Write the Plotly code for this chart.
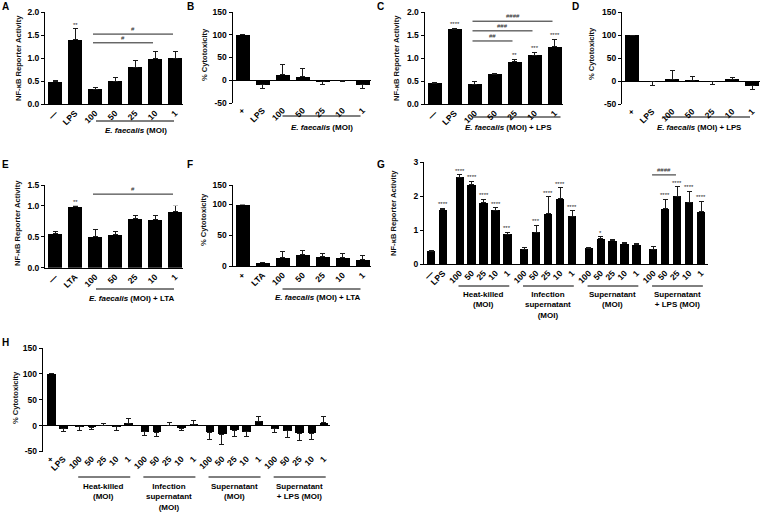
import plotly.graph_objects as go

W, H = 760, 517
FONT = "Liberation Sans, Arial, sans-serif"

# ---------------- data ----------------
labels_nf = ["—", "LPS", "100", "50", "25", "10", "1"]
labels_cyto = ["+", "LPS", "100", "50", "25", "10", "1"]
labels_nf_lta = ["—", "LTA", "100", "50", "25", "10", "1"]
labels_cyto_lta = ["+", "LTA", "100", "50", "25", "10", "1"]

A_vals = [0.48, 1.40, 0.32, 0.49, 0.80, 0.98, 1.00]
A_err = [0.03, 0.24, 0.03, 0.08, 0.14, 0.16, 0.14]
A_sig = ["", "**", "", "", "", "", ""]

B_vals = [100, -10, 12, 8, -3, -1, -10]
B_err = [0, 9, 22, 18, 6, 1, 9]

C_vals = [0.45, 1.63, 0.43, 0.65, 0.92, 1.06, 1.24]
C_err = [0.02, 0.02, 0.05, 0.01, 0.05, 0.06, 0.17]
C_sig = ["", "****", "", "", "**", "***", "****"]

D_vals = [100, -2, 4, 1, -1, 3, -10]
D_err = [0, 7, 18, 8, 7, 4, 8]

E_vals = [0.55, 0.99, 0.50, 0.54, 0.79, 0.78, 0.91]
E_err = [0.03, 0.01, 0.11, 0.04, 0.06, 0.06, 0.10]
E_sig = ["", "**", "", "", "", "", "*"]

F_vals = [100, 5, 14, 19, 16, 14, 11]
F_err = [0, 1, 10, 6, 5, 7, 6]

moi = ["100", "50", "25", "10", "1"]
G_labels = ["—", "LPS"] + moi * 4
H_labels = ["+", "LPS"] + moi * 4
GH_groups = [0, 0] + [1] * 5 + [2] * 5 + [3] * 5 + [4] * 5
group_names = ["Heat-killed<br>(MOI)", "Infection<br>supernatant<br>(MOI)",
               "Supernatant<br>(MOI)", "Supernatant<br>+ LPS (MOI)"]

G_vals = [0.37, 1.60, 2.55, 2.33, 1.80, 1.58, 0.87, 0.44, 0.94, 1.48, 1.92, 1.40,
          0.46, 0.75, 0.68, 0.60, 0.56, 0.44, 1.63, 2.00, 1.82, 1.53]
G_err = [0.02, 0.04, 0.07, 0.11, 0.11, 0.08, 0.07, 0.06, 0.20, 0.50, 0.32, 0.16,
         0.02, 0.05, 0.03, 0.04, 0.05, 0.07, 0.28, 0.27, 0.32, 0.32]
G_sig = ["", "****", "****", "****", "****", "****", "***", "", "***", "****", "****", "****",
         "", "*", "", "", "", "", "****", "****", "****", "****"]

H_vals = [100, -6, -2, -3, 1, -2, 5, -12, -13, 1, -5, 2,
          -13, -17, -9, -12, 8, -6, -10, -15, -15, 6]
H_err = [0, 6, 7, 5, 4, 8, 9, 7, 8, 5, 5, 7,
         14, 20, 12, 9, 9, 8, 12, 13, 11, 11]

# hash comparisons: (from index, to index, text, height)
A_hash = [(2, 6, "#", 1.52), (2, 5, "#", 1.33)]
C_hash = [(2, 6, "####", 1.80), (2, 5, "###", 1.59), (2, 4, "##", 1.37)]
E_hash = [(2, 6, "#", 1.28)]
G_hash = [(17, 19, "####", 2.62)]

# ---------------- helpers ----------------
def xd(a, b):
    return [a / W, b / W]


def yd(top, bottom):
    return [1 - bottom / H, 1 - top / H]


def px_x(p):
    return p / W


def px_y(p):
    return 1 - p / H


fig = go.Figure()
layout = {}
annotations = []
shapes = []
tick_font = dict(family=FONT, size=8.5, color="black", weight="bold")


def add_panel(k, xs, labels, vals, errs, xdom, xrange, ydom, yrange, ytv, ytt,
              xline=True):
    plus = [e if v >= 0 else 0 for v, e in zip(vals, errs)]
    minus = [0 if v >= 0 else e for v, e in zip(vals, errs)]
    fig.add_trace(go.Bar(
        x=xs, y=vals, width=0.7, xaxis=f"x{k}", yaxis=f"y{k}",
        marker=dict(color="black", line=dict(width=0)), cliponaxis=False,
        error_y=dict(type="data", symmetric=False, array=plus, arrayminus=minus,
                     color="#1a1a1a", thickness=1, width=2.5),
        showlegend=False, hoverinfo="skip"))
    layout[f"xaxis{k}"] = dict(
        domain=xd(*xdom), range=xrange, anchor=f"y{k}", tickvals=xs, ticktext=labels,
        tickangle=-45, showline=xline, linecolor="black", linewidth=1, ticks="",
        tickfont=tick_font, showgrid=False, zeroline=False, ticklabeloverflow="allow",
        automargin=False)
    layout[f"yaxis{k}"] = dict(
        domain=yd(*ydom), range=yrange, anchor=f"x{k}", showline=True,
        linecolor="black", linewidth=1, ticks="outside", ticklen=3, tickwidth=1,
        tickcolor="black", tickvals=ytv, ticktext=ytt, tickfont=tick_font,
        showgrid=False, zeroline=not xline, zerolinecolor="black", zerolinewidth=1,
        automargin=False)


def add_upper(k, kx, ydom, yrange, ytv, ytt):
    fig.add_trace(go.Scatter(x=[None], y=[None], xaxis=f"x{kx}", yaxis=f"y{k}",
                             showlegend=False, hoverinfo="skip"))
    layout[f"yaxis{k}"] = dict(
        domain=yd(*ydom), range=yrange, anchor=f"x{kx}", showline=True,
        linecolor="black", linewidth=1, ticks="outside", ticklen=3, tickwidth=1,
        tickcolor="black", tickvals=ytv, ticktext=ytt, tickfont=tick_font,
        showgrid=False, zeroline=False, automargin=False)


def stars(k, xs, vals, errs, sig, yk=None):
    for x, v, e, s in zip(xs, vals, errs, sig):
        if s:
            annotations.append(dict(
                x=x, y=v + e, xref=f"x{k}", yref=f"y{yk or k}", text=s, showarrow=False,
                xanchor="center", yanchor="bottom", yshift=-1,
                font=dict(family=FONT, size=6, color="#222")))


def hashes(k, xs, items, yk=None):
    for a, b, t, h in items:
        shapes.append(dict(type="line", xref=f"x{k}", yref=f"y{yk or k}",
                           x0=xs[a] - 0.1, x1=xs[b] - 0.1, y0=h, y1=h,
                           line=dict(color="#222", width=1)))
        annotations.append(dict(
            x=(xs[a] + xs[b]) / 2 - 0.1, y=h, xref=f"x{k}", yref=f"y{yk or k}",
            text=t, showarrow=False, xanchor="center", yanchor="bottom", yshift=0,
            font=dict(family=FONT, size=6, color="#222")))


def group_line(k, x0, x1, ypx):
    shapes.append(dict(type="line", xref=f"x{k}", yref="paper", x0=x0, x1=x1,
                       y0=px_y(ypx), y1=px_y(ypx), line=dict(color="black", width=1)))


def text_px(k, x, ypx, txt, size=8, yanchor="middle"):
    annotations.append(dict(x=x, y=px_y(ypx), xref=f"x{k}", yref="paper", text=txt,
                            showarrow=False, xanchor="center", yanchor=yanchor,
                            align="center",
                            font=dict(family=FONT, size=size, color="black")))


def ytitle(xpx, ypx, txt):
    annotations.append(dict(x=px_x(xpx), y=px_y(ypx), xref="paper", yref="paper",
                            text=f"<b>{txt}</b>", textangle=-90, showarrow=False,
                            xanchor="center", yanchor="middle",
                            font=dict(family=FONT, size=7.6, color="#111")))


def letter(xpx, ypx, txt):
    annotations.append(dict(x=px_x(xpx), y=px_y(ypx), xref="paper", yref="paper",
                            text=f"<b>{txt}</b>", showarrow=False,
                            xanchor="center", yanchor="middle",
                            font=dict(family=FONT, size=10, color="black")))


idx7 = list(range(7))
nf_tv = [0, 0.5, 1.0, 1.5, 2.0]
nf_tt = ["0.0", "0.5", "1.0", "1.5", "2.0"]
cy_tv = [-50, 0, 50, 100, 150]
cy_tt = ["-50", "0", "50", "100", "150"]
xr7 = [-0.5, 6.4]

# A
add_panel(1, idx7, labels_nf, A_vals, A_err, (45, 183), xr7, (12, 104), [0, 2], nf_tv, nf_tt)
stars(1, idx7, A_vals, A_err, A_sig)
hashes(1, idx7, A_hash)
# B
add_panel(2, idx7, labels_cyto, B_vals, B_err, (232.5, 370.5), xr7, (12, 103), [-50, 150],
          cy_tv, cy_tt, xline=False)
# C
add_panel(3, idx7, labels_nf, C_vals, C_err, (424.5, 562.5), xr7, (12, 104), [0, 2], nf_tv, nf_tt)
stars(3, idx7, C_vals, C_err, C_sig)
hashes(3, idx7, C_hash)
# D
add_panel(4, idx7, labels_cyto, D_vals, D_err, (622, 760), xr7, (12, 104), [-50, 150],
          cy_tv, cy_tt, xline=False)
# E (segmented axis)
add_panel(5, idx7, labels_nf_lta, E_vals, E_err, (45, 183), xr7, (205.7, 267.7), [0, 1],
          [0, 0.5, 1.0], ["0.0", "0.5", "1.0"])
add_upper(9, 5, (185, 205.7), [1, 1.5], [1.5], ["1.5"])
stars(5, idx7, E_vals, E_err, E_sig)
hashes(5, idx7, E_hash, yk=9)
# F (segmented axis)
add_panel(6, idx7, labels_cyto_lta, F_vals, F_err, (232.5, 370.5), xr7, (204.5, 266), [0, 100],
          [0, 50, 100], ["0", "50", "100"])
add_upper(10, 6, (185, 204.5), [100, 150], [150], ["150"])

# G
G_x = [i + 0.4 * g for i, g in enumerate(GH_groups)]
add_panel(7, G_x, G_labels, G_vals, G_err, (424, 708), [-0.586, 23.18], (162, 264), [0, 3],
          [0, 1, 2, 3], ["0", "1", "2", "3"])
stars(7, G_x, G_vals, G_err, G_sig)
hashes(7, G_x, G_hash)
# H
H_x = [i + 0.32 * g for i, g in enumerate(GH_groups)]
add_panel(8, H_x, H_labels, H_vals, H_err, (42.7, 330), [-0.68, 22.78], (348, 451.5), [-50, 150],
          cy_tv, cy_tt, xline=False)

# group lines and labels, top panels
top_groups = [
    (1, 2.05, 5.95, 4.05, "<b><i>E. faecalis</i> (MOI)</b>", 121, 130, 8),
    (2, 2.0, 5.9, 3.95, "<b><i>E. faecalis</i> (MOI)</b>", 116, 127, 8),
    (3, 1.9, 6.3, 3.7, "<b><i>E. faecalis</i> (MOI) + LPS</b>", 117, 128, 8),
    (4, 1.6, 5.9, 3.35, "<b><i>E. faecalis</i> (MOI) + LPS</b>", 117, 127, 7.8),
    (5, 2.05, 5.95, 3.85, "<b><i>E. faecalis</i> (MOI) + LTA</b>", 289, 298, 8),
    (6, 2.0, 5.9, 3.75, "<b><i>E. faecalis</i> (MOI) + LTA</b>", 289, 297, 8),
]
for k, a, b, c, t, ly, ty, sz in top_groups:
    group_line(k, a, b, ly)
    text_px(k, c, ty, t, size=sz)

# group lines and labels G / H
for k, xs, ly, ty in [(7, G_x, 286, 288), (8, H_x, 477, 480)]:
    for gi, name in enumerate(group_names):
        members = [x for x, g in zip(xs, GH_groups) if g == gi + 1]
        group_line(k, members[0] - 0.1, members[-1] + 0.15, ly)
        text_px(k, (members[0] + members[-1]) / 2, ty, f"<b>{name}</b>", size=8, yanchor="top")

# axis titles
nf_title = "NF-κB Reporter Activity"
cy_title = "% Cytotoxicity"
ytitle(18, 58, nf_title)
ytitle(204, 55, cy_title)
ytitle(396, 58, nf_title)
ytitle(591, 54, cy_title)
ytitle(18, 223, nf_title)
ytitle(204, 220, cy_title)
ytitle(393, 213, nf_title)
ytitle(15, 398, cy_title)

# panel letters
for xl, yl, t in [(5, 7, "A"), (190, 6, "B"), (380, 6, "C"), (575, 6, "D"),
                  (5, 164, "E"), (190, 164, "F"), (381, 164, "G"), (5, 342, "H")]:
    letter(xl, yl, t)

fig.update_layout(
    width=W, height=H, autosize=False,
    margin=dict(l=0, r=0, t=0, b=0),
    paper_bgcolor="white", plot_bgcolor="white",
    font=dict(family=FONT, color="black"),
    bargap=0, annotations=annotations, shapes=shapes,
    **layout)

# remove the default 8px page margin so the figure sits at the window origin
fig.write_html("out.html",
               config={"displayModeBar": False},
               post_script="document.body.style.margin='0';"
                           "document.body.style.overflow='hidden';")
